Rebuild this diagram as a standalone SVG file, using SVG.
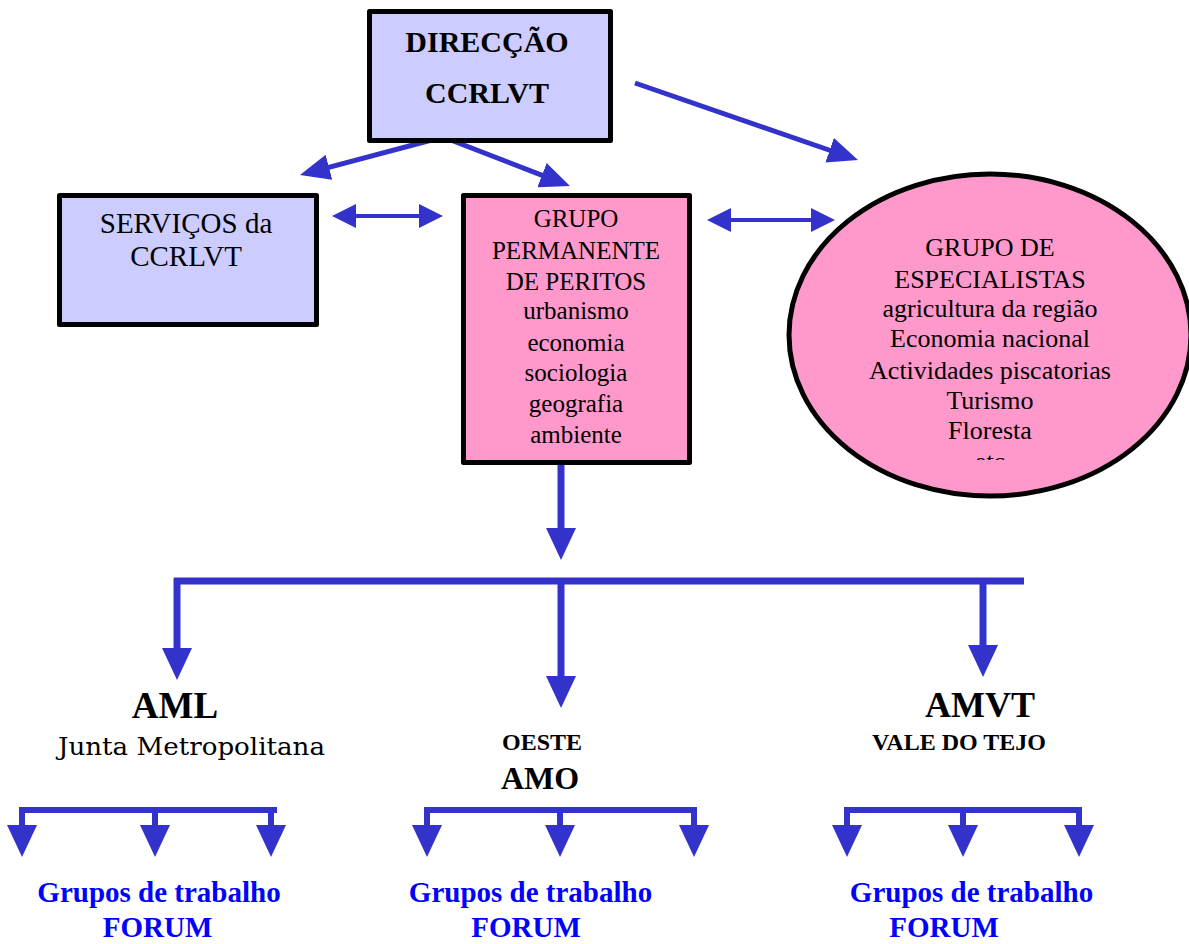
<svg xmlns="http://www.w3.org/2000/svg" width="1189" height="944" viewBox="0 0 1189 944" font-family="'Liberation Serif', 'Times New Roman', serif">
<style>
.box{stroke:#000;stroke-width:5;stroke-linejoin:round}
.lav{fill:#ccccff}
.pink{fill:#ff99cc}
text{fill:#000;text-anchor:middle}
.b{font-weight:bold}
.blue{fill:#0000ff;font-weight:bold;font-size:29px}
.c{stroke:#3333cc;fill:none}
</style>
<defs>
<marker id="big" viewBox="0 0 32 30" markerWidth="32" markerHeight="30" markerUnits="userSpaceOnUse" refX="8" refY="15" orient="auto"><path d="M0,0 L32,15 L0,30 z" fill="#3333cc"/></marker>
<marker id="mid" viewBox="0 0 30 26" markerWidth="30" markerHeight="26" markerUnits="userSpaceOnUse" refX="10" refY="13" orient="auto"><path d="M0,0 L30,13 L0,26 z" fill="#3333cc"/></marker>
<marker id="sm" viewBox="0 0 24 24" markerWidth="24" markerHeight="24" markerUnits="userSpaceOnUse" refX="8" refY="12" orient="auto-start-reverse"><path d="M0,0 L24,12 L0,24 z" fill="#3333cc"/></marker>
<clipPath id="ellclip"><rect x="780" y="160" width="420" height="300"/></clipPath>
</defs>

<g id="connectors">
<path class="c" stroke-width="5" d="M443,137 L319.3,169.9" marker-end="url(#mid)"/>
<path class="c" stroke-width="5" d="M443,137 L551.3,178.8" marker-end="url(#mid)"/>
<path class="c" stroke-width="5" d="M635,83 L839.1,153.5" marker-end="url(#mid)"/>
<path class="c" stroke-width="4" d="M348,216 L427,216" marker-start="url(#sm)" marker-end="url(#sm)"/>
<path class="c" stroke-width="4" d="M723,220 L819,220" marker-start="url(#sm)" marker-end="url(#sm)"/>
<path class="c" stroke-width="7" d="M561,465 L561,536" marker-end="url(#big)"/>
<path class="c" stroke-width="7" d="M174,581 L1024,581"/>
<path class="c" stroke-width="7" d="M177,578 L177,656" marker-end="url(#big)"/>
<path class="c" stroke-width="7" d="M561,581 L561,684" marker-end="url(#big)"/>
<path class="c" stroke-width="7" d="M983,578 L983,653" marker-end="url(#big)"/>
<path class="c" stroke-width="6" d="M20,810 L277,810"/>
<path class="c" stroke-width="6" d="M22,807 L22,833" marker-end="url(#big)"/>
<path class="c" stroke-width="6" d="M155,810 L155,833" marker-end="url(#big)"/>
<path class="c" stroke-width="6" d="M271,807 L271,833" marker-end="url(#big)"/>
<path class="c" stroke-width="6" d="M424,810 L694,810"/>
<path class="c" stroke-width="6" d="M427,807 L427,833" marker-end="url(#big)"/>
<path class="c" stroke-width="6" d="M560,810 L560,833" marker-end="url(#big)"/>
<path class="c" stroke-width="6" d="M694,807 L694,833" marker-end="url(#big)"/>
<path class="c" stroke-width="6" d="M847,810 L1079,810"/>
<path class="c" stroke-width="6" d="M847,807 L847,833" marker-end="url(#big)"/>
<path class="c" stroke-width="6" d="M963,810 L963,833" marker-end="url(#big)"/>
<path class="c" stroke-width="6" d="M1079,807 L1079,833" marker-end="url(#big)"/>
</g>

<g id="direccao">
<rect class="box lav" x="369.5" y="11.5" width="241" height="129"/>
<text class="b" x="487" y="52" font-size="30">DIRECÇÃO</text>
<text class="b" x="487" y="103" font-size="30">CCRLVT</text>
</g>

<g id="servicos">
<rect class="box lav" x="59.5" y="195.5" width="257" height="129"/>
<text x="186" y="233" font-size="29">SERVIÇOS da</text>
<text x="186" y="266" font-size="29">CCRLVT</text>
</g>

<g id="peritos">
<rect class="box pink" x="463.5" y="195.5" width="226" height="267"/>
<g font-size="25">
<text x="576" y="227">GRUPO</text>
<text x="576" y="259">PERMANENTE</text>
<text x="576" y="290">DE PERITOS</text>
<text x="576" y="319">urbanismo</text>
<text x="576" y="351">economia</text>
<text x="576" y="381">sociologia</text>
<text x="576" y="412">geografia</text>
<text x="576" y="443">ambiente</text>
</g>
</g>

<g id="especialistas">
<ellipse cx="990" cy="335" rx="201" ry="161" class="box pink"/>
<g font-size="26">
<text x="990" y="256">GRUPO DE</text>
<text x="990" y="288">ESPECIALISTAS</text>
<text x="990" y="317">agricultura da região</text>
<text x="990" y="347">Economia nacional</text>
<text x="990" y="379">Actividades piscatorias</text>
<text x="990" y="409">Turismo</text>
<text x="990" y="439">Floresta</text>
<text x="990" y="470" clip-path="url(#ellclip)">etc</text>
</g>
</g>

<g id="aml">
<text class="b" x="175" y="718" font-size="37">AML</text>
<text x="191.5" y="755" font-size="24" font-family="'DejaVu Serif', serif" textLength="267" lengthAdjust="spacingAndGlyphs">Junta Metropolitana</text>
</g>

<g id="amo">
<text class="b" x="542" y="750" font-size="24">OESTE</text>
<text class="b" x="540" y="789" font-size="32">AMO</text>
</g>

<g id="amvt">
<text class="b" x="980" y="717" font-size="36">AMVT</text>
<text class="b" x="959" y="750" font-size="24">VALE DO TEJO</text>
</g>

<g id="forum-aml">
<text class="blue" x="159" y="902">Grupos de trabalho</text>
<text class="blue" x="157.5" y="937">FORUM</text>
</g>
<g id="forum-amo">
<text class="blue" x="530.5" y="902">Grupos de trabalho</text>
<text class="blue" x="526" y="937">FORUM</text>
</g>
<g id="forum-amvt">
<text class="blue" x="971.5" y="902">Grupos de trabalho</text>
<text class="blue" x="944" y="937">FORUM</text>
</g>
</svg>
